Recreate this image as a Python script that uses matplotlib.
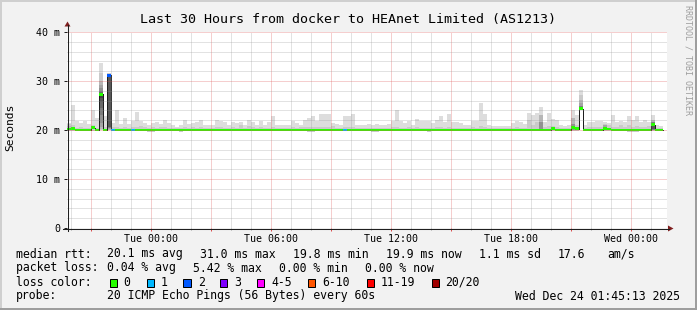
import numpy as np
import matplotlib
matplotlib.use('Agg')
import matplotlib.pyplot as plt
import matplotlib.dates as mdates
from matplotlib.patches import Rectangle, Polygon
from matplotlib.lines import Line2D
from matplotlib.ticker import MultipleLocator, FuncFormatter
import datetime as dt

nan = np.nan
# ---------------- data (ms), 150 bins of 12 minutes ----------------
start = dt.datetime(2025, 12, 22, 19, 48)
step_minutes = 12

smoke_hi = [
    21.4, 25.2, 21.9, 21.4, 21.9, 21.2, 24.0, 22.5, 33.6, 22.8,
    31.6, 21.5, 24.1, 21.2, 22.4, 21.2, 21.9, 23.7, 21.9, 21.4,
    21.0, 21.4, 21.6, 21.2, 22.1, 21.4, 21.0, 20.7, 21.0, 22.1,
    21.2, 21.4, 21.6, 22.1, 21.1, 21.0, 21.1, 22.1, 21.9, 21.6,
    21.1, 21.6, 21.4, 21.6, 21.0, 22.1, 21.6, 21.1, 21.9, 21.1,
    21.6, 22.8, 21.1, 21.1, 21.1, 21.1, 21.9, 21.4, 21.1, 22.1,
    22.4, 22.8, 21.9, 23.2, 23.2, 23.2, 21.4, 21.2, 21.1, 22.8,
    22.8, 23.3, 21.1, 21.1, 21.1, 21.2, 21.1, 21.2, 21.1, 21.1,
    21.2, 21.9, 24.1, 21.9, 21.4, 21.9, 21.1, 22.3, 21.9, 21.9,
    21.9, 21.4, 22.1, 22.8, 21.6, 23.3, 21.6, 21.6, 21.4, 21.1,
    21.0, 21.9, 21.9, 25.5, 23.3, 21.0, 20.8, 20.8, 20.8, 20.8,
    20.8, 21.4, 21.9, 21.6, 21.2, 23.5, 23.1, 23.5, 24.7, 21.6,
    23.5, 22.3, 22.1, 21.1, 20.8, 21.0, 24.1, 23.0, 28.2, 21.0,
    21.6, 21.6, 21.9, 21.9, 21.6, 21.4, 23.1, 21.6, 21.9, 21.6,
    22.8, 22.1, 22.8, 21.6, 22.1, 21.6, 23.0, 21.0, 20.8, nan]

smoke_lo = [
    19.8, 19.8, 19.8, 19.8, 19.8, 19.8, 19.8, 19.8, 19.9, 19.8,
    19.9, 19.8, 19.8, 19.8, 19.7, 19.8, 19.8, 19.8, 19.7, 19.8,
    19.5, 19.5, 19.8, 19.8, 19.7, 19.8, 19.8, 19.8, 19.6, 19.8,
    19.8, 19.8, 19.7, 19.8, 19.8, 19.8, 19.8, 19.8, 19.8, 19.8,
    19.8, 19.8, 19.8, 19.7, 19.8, 19.8, 19.8, 19.8, 19.8, 19.8,
    19.8, 19.8, 19.8, 19.8, 19.8, 19.8, 19.8, 19.8, 19.8, 19.8,
    19.5, 19.5, 19.8, 19.8, 19.8, 19.8, 19.8, 19.8, 19.8, 19.8,
    19.8, 19.8, 19.8, 19.8, 19.8, 19.8, 19.6, 19.6, 19.8, 19.8,
    19.8, 19.8, 19.8, 19.8, 19.8, 19.8, 19.8, 19.8, 19.8, 19.8,
    19.6, 19.8, 19.8, 19.8, 19.8, 19.8, 19.8, 19.8, 19.8, 19.8,
    19.8, 19.8, 19.8, 19.8, 19.8, 19.8, 19.8, 19.8, 19.8, 19.8,
    19.8, 19.8, 19.8, 19.8, 19.8, 19.8, 19.8, 19.8, 19.8, 19.8,
    19.8, 19.8, 19.8, 19.8, 19.8, 19.8, 19.8, 19.8, 24.0, 19.8,
    19.8, 19.8, 19.8, 19.8, 19.8, 19.8, 19.8, 19.8, 19.8, 19.8,
    19.5, 19.5, 19.6, 19.8, 19.8, 19.8, 19.8, 19.8, 19.8, nan]

smoke_core = [
    21.2, 20.9, 20.4, 20.5, 20.4, 20.4, 21.0, 20.4, 31.5, 20.5,
    31.5, 20.5, 20.6, 20.4, 20.5, 20.4, 20.5, 20.6, 20.8, 20.5,
    20.4, 20.5, 20.4, 20.5, 20.5, 20.4, 20.4, 20.4, 20.4, 20.6,
    20.4, 20.5, 20.4, 20.5, 20.4, 20.4, 20.4, 20.5, 20.5, 20.4,
    20.4, 20.5, 20.4, 20.9, 20.4, 20.7, 20.5, 20.4, 20.5, 20.4,
    20.4, 20.6, 20.4, 20.4, 20.4, 20.4, 20.5, 20.4, 20.6, 20.5,
    20.5, 20.5, 20.6, 20.5, 20.5, 20.5, 20.7, 20.4, 20.4, 20.5,
    20.5, 20.5, 20.4, 20.4, 20.4, 20.4, 20.4, 20.4, 20.4, 20.4,
    20.4, 20.5, 20.6, 20.4, 20.4, 20.5, 20.4, 20.6, 20.4, 20.4,
    20.4, 20.4, 20.5, 20.6, 20.4, 20.5, 20.4, 20.4, 20.4, 20.4,
    20.4, 20.6, 20.4, 20.7, 20.5, 20.4, 20.4, 20.4, 20.4, 20.4,
    20.4, 20.4, 20.5, 20.4, 20.4, 22.0, 21.0, 21.5, 23.0, 20.5,
    20.7, 20.8, 20.5, 20.4, 20.4, 20.4, 22.0, 21.0, 27.0, 20.4,
    20.5, 20.5, 20.5, 20.5, 21.2, 21.0, 20.6, 20.5, 20.9, 20.5,
    21.0, 20.6, 20.7, 20.5, 20.6, 20.8, 22.0, 20.4, 20.4, nan]

median = [
    20.2, 20.3, 20.0, 20.0, 20.0, 20.0, 20.5, 20.0, 27.3, 20.0,
    31.2, 20.0, 20.0, 20.0, 20.0, 20.0, 20.0, 20.0, 20.0, 20.0,
    20.0, 20.0, 20.0, 20.0, 20.0, 20.0, 20.0, 20.0, 20.0, 20.0,
    20.0, 20.0, 20.0, 20.0, 20.0, 20.0, 20.0, 20.0, 20.0, 20.0,
    20.0, 20.0, 20.0, 20.0, 20.0, 20.0, 20.0, 20.0, 20.0, 20.0,
    20.0, 20.0, 20.0, 20.0, 20.0, 20.0, 20.0, 20.0, 20.0, 20.0,
    20.0, 20.0, 20.0, 20.0, 20.0, 20.0, 20.0, 20.0, 20.0, 20.0,
    20.0, 20.0, 20.0, 20.0, 20.0, 20.0, 20.0, 20.0, 20.0, 20.0,
    20.0, 20.0, 20.0, 20.0, 20.0, 20.0, 20.0, 20.0, 20.0, 20.0,
    20.0, 20.0, 20.0, 20.0, 20.0, 20.0, 20.0, 20.0, 20.0, 20.0,
    20.0, 20.0, 20.0, 20.0, 20.0, 20.0, 20.0, 20.0, 20.0, 20.0,
    20.0, 20.0, 20.0, 20.0, 20.0, 20.0, 20.0, 20.0, 20.0, 20.0,
    20.0, 20.3, 20.0, 20.0, 20.0, 20.0, 20.5, 20.3, 24.3, 20.0,
    20.0, 20.0, 20.0, 20.0, 20.3, 20.2, 20.0, 20.0, 20.0, 20.0,
    20.0, 20.0, 20.0, 20.0, 20.0, 20.0, 21.1, 20.0, 20.0, nan]

# lost pings per bin (out of 20)
loss_bins = [10, 11, 16, 69]
loss_counts = [2, 1, 1, 1]

# darker inner smoke bands (bin, low ms, high ms, grey)
band_bin = [8, 8, 8, 8, 8, 8, 8, 10, 10, 10, 10, 10, 128, 128, 128, 128,
            146, 146, 146, 118, 118, 126, 126, 0, 134]
band_lo = [20.2, 20.6, 21.5, 23.0, 24.5, 25.8, 26.6, 20.1, 20.3, 20.5, 20.6, 20.7,
           24.1, 24.15, 24.2, 24.25, 20.0, 20.1, 20.2, 20.0, 20.0, 20.0, 20.1, 20.0, 20.0]
band_hi = [30.0, 29.2, 28.6, 28.0, 27.7, 27.5, 27.4, 31.4, 31.35, 31.3, 31.3, 31.25,
           26.2, 25.5, 25.0, 24.7, 22.0, 21.6, 21.3, 23.0, 21.6, 22.5, 21.2, 20.9, 21.0]
band_grey = ['#b7b7b7', '#a4a4a4', '#919191', '#7e7e7e', '#6b6b6b', '#585858', '#454545',
             '#b7b7b7', '#a4a4a4', '#7e7e7e', '#6b6b6b', '#585858',
             '#b7b7b7', '#a4a4a4', '#7e7e7e', '#585858',
             '#b7b7b7', '#7e7e7e', '#585858', '#b7b7b7', '#919191', '#b7b7b7', '#919191',
             '#b7b7b7', '#a4a4a4']

loss_labels = ['0', '1', '2', '3', '4-5', '6-10', '11-19', '20/20']
loss_colors = ['#26ff00', '#00b8ff', '#0059ff', '#7e00ff', '#ff00ff', '#ff5500', '#ff0000', '#a10000']

title = 'Last 30 Hours from docker to HEAnet Limited (AS1213)'
# -------------------------------------------------------------------

W, H = 697, 310
MONO = 'DejaVu Sans Mono'
fig = plt.figure(figsize=(W / 100, H / 100), dpi=100)
fig.patch.set_facecolor('#f2f2f2')


def fx(px):
    return px / W


def fy(py):
    return 1 - py / H


ax = fig.add_axes([fx(67), fy(228), 600 / W, 196 / H])
ax.set_facecolor('white')
for s in ax.spines.values():
    s.set_visible(False)

n = len(median)
times = [start + dt.timedelta(minutes=step_minutes * i) for i in range(n + 1)]
edges = mdates.date2num(times)
left = edges[:-1]
width = edges[1] - edges[0]

hi = np.array(smoke_hi)
lo = np.array(smoke_lo)
core = np.array(smoke_core)
med = np.array(median)
ok = ~np.isnan(med)

# outer smoke
ax.bar(left[ok], (hi - lo)[ok], bottom=lo[ok], width=width, align='edge',
       color='#dddddd', linewidth=0, antialiased=False, zorder=1)
# second pair
ax.bar(left[ok], (core - lo)[ok], bottom=lo[ok] + 0.05, width=width, align='edge',
       color='#cacaca', linewidth=0, antialiased=False, zorder=1.1)
# inner bands
for b, l, h, g in zip(band_bin, band_lo, band_hi, band_grey):
    ax.bar(left[b], h - l, bottom=l, width=width, align='edge', color=g,
           linewidth=0, antialiased=False, zorder=1.2)

# median line (dark step line)
ax.stairs(med, edges, baseline=None, color='#1f1f1f', linewidth=0.72, zorder=1.5,
          antialiased=False)

# loss coloured median band
lossc = np.zeros(n, dtype=int)
for b, c in zip(loss_bins, loss_counts):
    lossc[b] = c
cmap_idx = {0: 0, 1: 1, 2: 2, 3: 3}
cols = [loss_colors[cmap_idx.get(c, 4)] for c in lossc]
sw = 0.3
ax.bar(left[ok], 2 * sw, bottom=med[ok] - sw, width=width, align='edge',
       color=[cols[i] for i in range(n) if ok[i]], linewidth=0, antialiased=False, zorder=1.8)

ax.set_xlim(edges[0], edges[-1])
ax.set_ylim(0, 40)

ax.xaxis.set_major_locator(mdates.HourLocator(byhour=range(0, 24, 3)))
ax.xaxis.set_minor_locator(mdates.HourLocator())


def xfmt(x, pos):
    d = mdates.num2date(x)
    return d.strftime('%a %H:%M') if d.hour % 6 == 0 else ''


ax.xaxis.set_major_formatter(FuncFormatter(xfmt))
ax.yaxis.set_major_locator(MultipleLocator(10))
ax.yaxis.set_minor_locator(MultipleLocator(2))
ax.yaxis.set_major_formatter(FuncFormatter(lambda v, p: '0' if v == 0 else f'{int(v)} m'))

ax.set_axisbelow(False)
ax.grid(which='minor', color='#8f8f8f', alpha=0.5, linestyle=(0, (1, 1)), linewidth=0.72)
ax.grid(which='major', color='#de4f4f', alpha=0.55, linestyle=(0, (1, 1)), linewidth=0.72)

ax.tick_params(axis='x', which='major', direction='out', length=2.2, width=0.72,
               color='#de4f4f', pad=2.2, labelsize=7.2)
ax.tick_params(axis='x', which='minor', direction='out', length=1.5, width=0.72,
               color='#a0a0a0')
ax.tick_params(axis='y', which='major', direction='out', length=2.5, width=0.72,
               color='#1f1f1f', pad=2.6, labelsize=7.2)
ax.tick_params(axis='y', which='minor', length=0)
for lab in ax.get_xticklabels() + ax.get_yticklabels():
    lab.set_family(MONO)

# axes lines + arrows
AX = '#1f1f1f'
fig.add_artist(Line2D([fx(63), fx(669)], [fy(228.5), fy(228.5)], color=AX, lw=0.75))
fig.add_artist(Line2D([fx(67.5), fx(67.5)], [fy(231), fy(25)], color=AX, lw=0.75))
fig.add_artist(Polygon([(fx(64.5), fy(26.5)), (fx(70.5), fy(26.5)), (fx(67.5), fy(21.5))],
                       closed=True, color='#801f1f', lw=0))
fig.add_artist(Polygon([(fx(668), fy(225.5)), (fx(668), fy(231.5)), (fx(673.5), fy(228.5))],
                       closed=True, color='#801f1f', lw=0))

# frame shading
fig.add_artist(Rectangle((0, fy(2)), 1, 2 / H, color='#cfcfcf', lw=0))
fig.add_artist(Rectangle((0, 0), 2 / W, 1, color='#cfcfcf', lw=0))
fig.add_artist(Rectangle((0, 0), 1, 2 / H, color='#9e9e9e', lw=0))
fig.add_artist(Rectangle((fx(695), 0), 2 / W, 1, color='#9e9e9e', lw=0))

# texts
fig.text(fx(348), fy(19), title, ha='center', va='center', fontsize=9.6, family=MONO)
fig.text(fx(10.5), fy(127), 'Seconds', rotation=90, ha='center', va='center',
         fontsize=8.1, family=MONO)
fig.text(fx(688), fy(60), 'RRDTOOL / TOBI OETIKER', rotation=270, ha='center',
         va='center', fontsize=6, family=MONO, color='#9e9e9e')

LF = 8.3
rows = {
    254: [(16, 'median rtt:'), (107, '20.1 ms avg'), (200, '31.0 ms max'), (293, '19.8 ms min'),
          (386, '19.9 ms now'), (479, '1.1 ms sd'), (558, '17.6'), (607, 'am/s')],
    268: [(16, 'packet loss:'), (107, '0.04 % avg'), (193, '5.42 % max'), (279, '0.00 % min'),
          (365, '0.00 % now')],
    282: [(16, 'loss color:')],
    296: [(16, 'probe:'), (107, '20 ICMP Echo Pings (56 Bytes) every 60s')],
}
for yy, items in rows.items():
    for xx, s in items:
        fig.text(fx(xx), fy(yy), s, ha='left', va='center', fontsize=LF, family=MONO)
fig.text(fx(680), fy(296), 'Wed Dec 24 01:45:13 2025', ha='right', va='center',
         fontsize=LF, family=MONO)

box_x = [109, 146, 183, 219, 256, 307, 366, 431]
lab_x = [123, 161, 198, 234, 271, 322, 381, 445]
for bx, lx, c, s in zip(box_x, lab_x, loss_colors, loss_labels):
    fig.add_artist(Rectangle((fx(bx + 0.5), fy(286.5)), 7 / W, 8 / H, facecolor=c,
                             edgecolor='#000000', lw=0.72))
    fig.text(fx(lx), fy(282), s, ha='left', va='center', fontsize=LF, family=MONO)

fig.savefig('out.png', dpi=100, facecolor=fig.get_facecolor())
